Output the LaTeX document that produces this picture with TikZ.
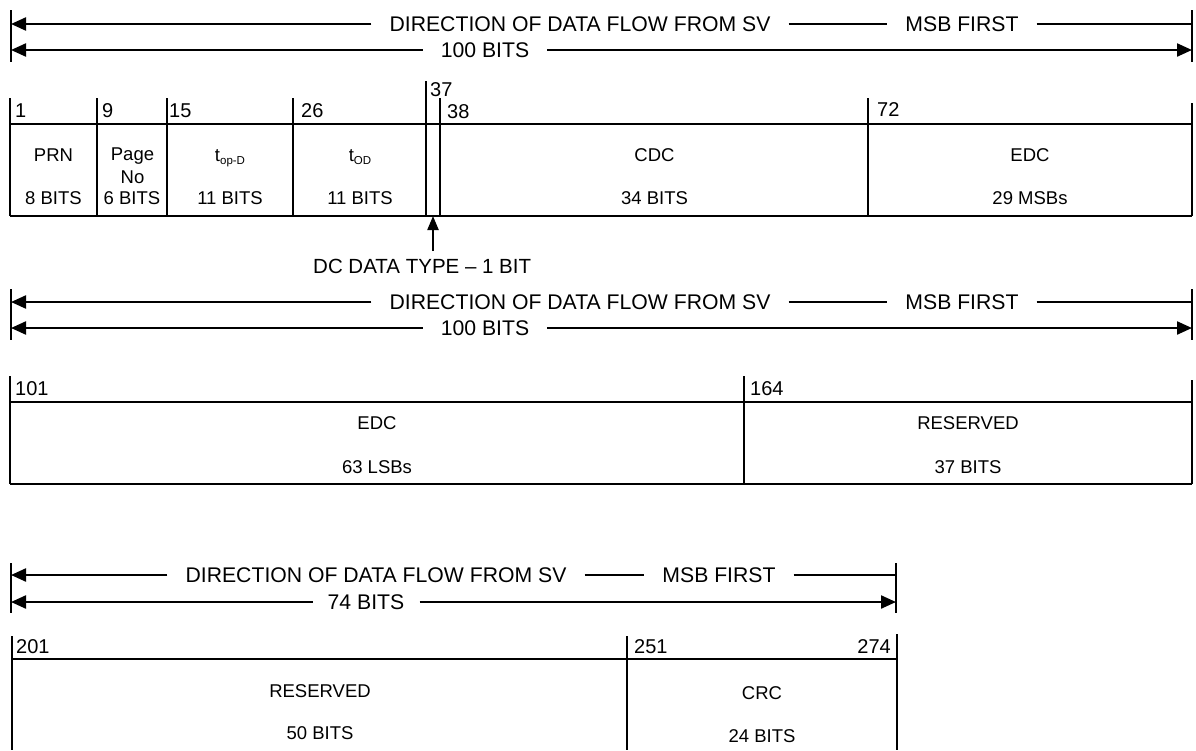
\documentclass[tikz,border=0pt]{standalone}
\usepackage{fontspec}
\setmainfont{Liberation Sans}
\usetikzlibrary{arrows.meta}
\begin{document}
\begin{tikzpicture}[x=1pt,y=-1pt,
  ln/.style={line width=2.2pt},
  thk/.style={line width=2.8pt},
  hdr/.style={font=\fontsize{21.2}{25}\selectfont, inner ysep=0pt, inner xsep=18pt},
  num/.style={font=\fontsize{20}{24}\selectfont, inner sep=0pt, anchor=base west},
  cell/.style={font=\fontsize{18.5}{21}\selectfont, inner sep=0pt, anchor=base},
  arr/.style={-{Triangle[length=15pt,width=13pt]}, line width=2.2pt}]
\useasboundingbox (0,0) rectangle (1196,750);

% ================= Section 1 =================
\draw[ln] (11,10) -- (11,62);
\draw[ln] (1192,10) -- (1192,62);
\node[hdr] (d1) at (580,24) {DIRECTION OF DATA FLOW FROM SV};
\node[hdr] (m1) at (962,24) {MSB FIRST};
\node[hdr] (b1) at (485,50) {100 BITS};
\coordinate (d1L) at (11,24);
\coordinate (d1R) at (1192,24);
\coordinate (b1L) at (11,50);
\coordinate (b1R) at (1192,50);
\draw[arr] (d1.west) -- (d1L);
\draw[ln] (d1.east) -- (m1.west);
\draw[ln] (m1.east) -- (d1R);
\draw[arr] (b1.west) -- (b1L);
\draw[arr] (b1.east) -- (b1R);

\draw[ln] (10,124) -- (1192,124);
\draw[ln] (10,216) -- (1192,216);
\foreach \x/\t in {10/98,97/98,167/98,293/98,426/81,440/98,868/98,1192/103}
  \draw[ln] (\x,\t) -- (\x,216);

\node[num] (n1) at (15,117) {1};
\node[num] (n9) at (102,117) {9};
\node[num] (n15) at (169,117) {15};
\node[num] (n26) at (301,117) {26};
\node[num] (n37) at (430,96) {37};
\node[num] (n38) at (447,118) {38};
\node[num] (n72) at (877,116) {72};

\node[cell] (prn) at (53.5,161) {PRN};
\node[cell] (prnb) at (53.5,204) {8 BITS};
\node[cell] (page) at (132.5,160) {Page};
\node[cell] (pageno) at (132.5,183) {No};
\node[cell] (pageb) at (132,204) {6 BITS};
\node[cell] (top) at (230,161) {t\raisebox{-0.35ex}{\fontsize{11.5}{12}\selectfont op-D}};
\node[cell] (topb) at (230,204) {11 BITS};
\node[cell] (tod) at (360,161) {t\raisebox{-0.35ex}{\fontsize{11.5}{12}\selectfont OD}};
\node[cell] (todb) at (360,204) {11 BITS};
\node[cell] (cdc) at (654.5,161) {CDC};
\node[cell] (cdcb) at (654.5,204) {34 BITS};
\node[cell] (edc1) at (1030,161) {EDC};
\node[cell] (edc1b) at (1030,204) {29 MSBs};

\node[cell, anchor=base west, font=\fontsize{20.5}{24}\selectfont] (dct) at (313,273) {DC DATA TYPE -- 1 BIT};
\coordinate (dcA) at (433,216);
\coordinate (dcB) at (433,251);
\draw[arr, -{Triangle[length=14pt,width=11pt]}] (dcB) -- (dcA);

% ================= Section 2 =================
\draw[ln] (11,289) -- (11,340);
\draw[ln] (1192,289) -- (1192,340);
\node[hdr] (d2) at (580,302) {DIRECTION OF DATA FLOW FROM SV};
\node[hdr] (m2) at (962,302) {MSB FIRST};
\node[hdr] (b2) at (485,328) {100 BITS};
\coordinate (d2L) at (11,302);
\coordinate (d2R) at (1192,302);
\coordinate (b2L) at (11,328);
\coordinate (b2R) at (1192,328);
\draw[arr] (d2.west) -- (d2L);
\draw[ln] (d2.east) -- (m2.west);
\draw[ln] (m2.east) -- (d2R);
\draw[arr] (b2.west) -- (b2L);
\draw[arr] (b2.east) -- (b2R);

\draw[ln] (10,402) -- (1192,402);
\draw[ln] (10,484) -- (1192,484);
\foreach \x/\t in {10/376,744/376,1192/380}
  \draw[ln] (\x,\t) -- (\x,484);

\node[num] (n101) at (15,395) {101};
\node[num] (n164) at (750,395) {164};

\node[cell] (edc2) at (377,429) {EDC};
\node[cell] (edc2b) at (377,473) {63 LSBs};
\node[cell] (res2) at (968,429) {RESERVED};
\node[cell] (res2b) at (968,473) {37 BITS};

% ================= Section 3 =================
\draw[ln] (11,563) -- (11,613);
\draw[ln] (896,563) -- (896,613);
\node[hdr] (d3) at (376,575) {DIRECTION OF DATA FLOW FROM SV};
\node[hdr] (m3) at (719,575) {MSB FIRST};
\node[hdr, inner xsep=15pt] (b3) at (366,602) {74 BITS};
\coordinate (d3L) at (11,575);
\coordinate (d3R) at (896,575);
\coordinate (b3L) at (11,602);
\coordinate (b3R) at (896,602);
\draw[arr] (d3.west) -- (d3L);
\draw[ln] (d3.east) -- (m3.west);
\draw[ln] (m3.east) -- (d3R);
\draw[arr] (b3.west) -- (b3L);
\draw[arr] (b3.east) -- (b3R);

\draw[ln] (12,659) -- (897,659);
\draw[ln] (12,636) -- (12,750);
\draw[ln] (627,636) -- (627,750);
\draw[thk] (897,634) -- (897,750);

\node[num] (n201) at (16,653) {201};
\node[num] (n251) at (634,653) {251};
\node[num, anchor=base east] (n274) at (891,653) {274};

\node[cell] (res3) at (320,697) {RESERVED};
\node[cell] (res3b) at (320,739) {50 BITS};
\node[cell] (crc) at (762,699) {CRC};
\node[cell] (crcb) at (762,742) {24 BITS};
\end{tikzpicture}
\end{document}
